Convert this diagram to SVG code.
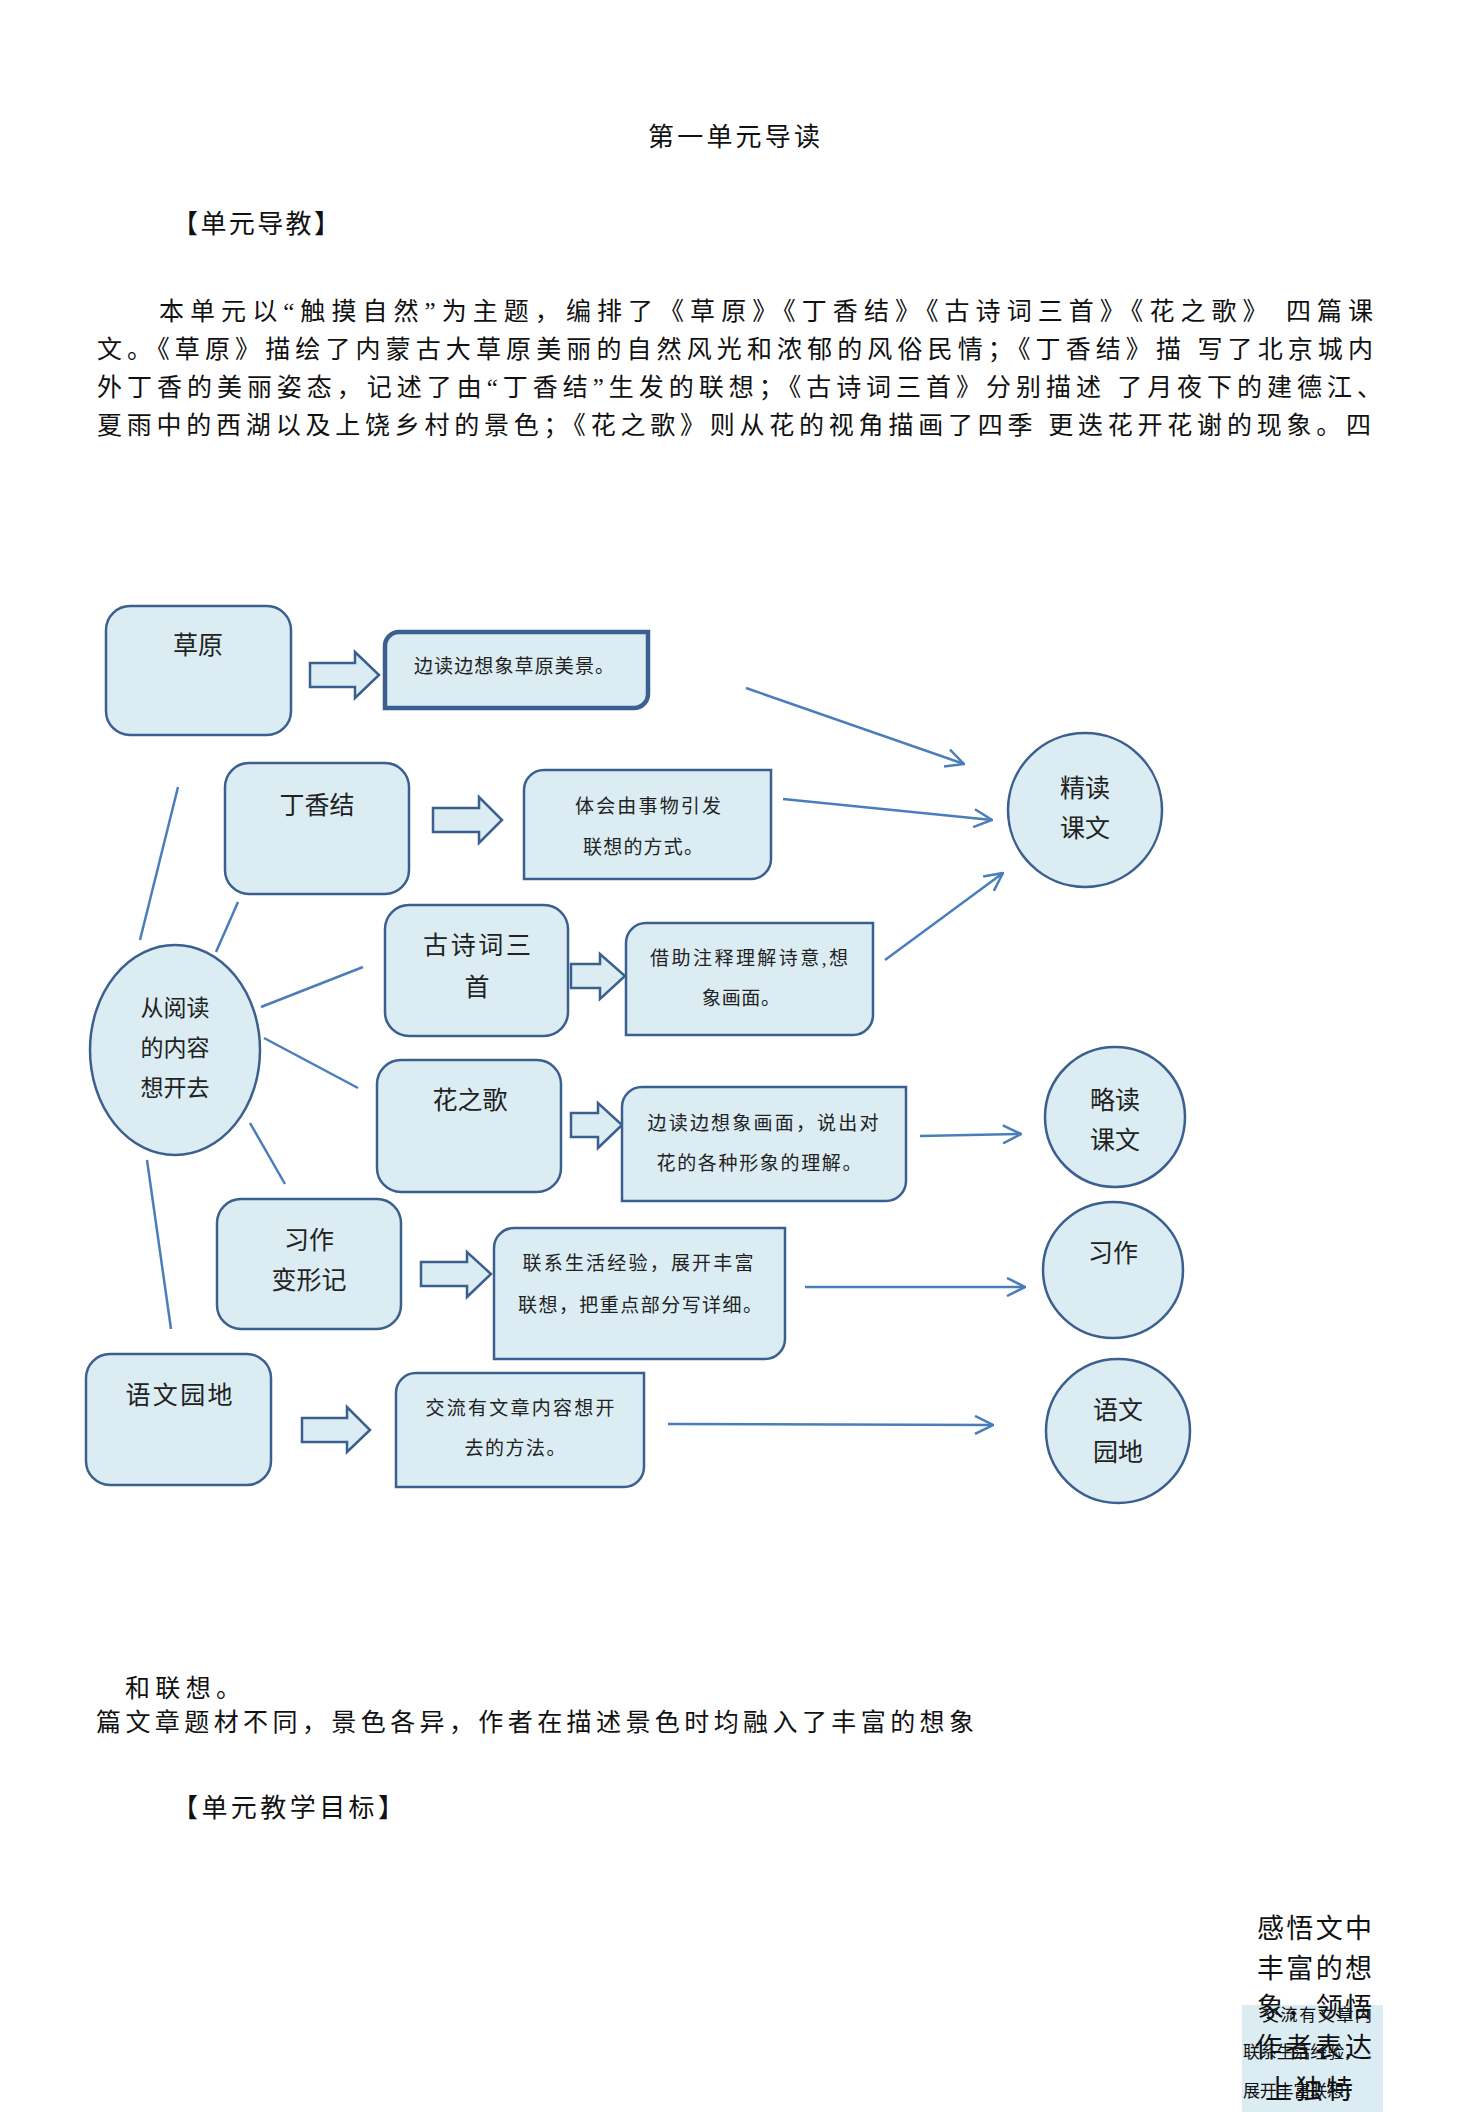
<svg xmlns="http://www.w3.org/2000/svg" width="1467" height="2112" viewBox="0 0 1467 2112">
<defs>
<style>
.bg{fill:#ffffff}
.txt{font-family:'Liberation Serif','Noto Sans CJK SC',serif;fill:#111111;font-weight:400}
.body{font-size:25px}
.head{font-size:26px}
.node{fill:#dbecf3;stroke:#3b5f8f;stroke-width:2.5}
.thick{stroke-width:4.5}
.lbl{font-family:'Liberation Serif','Noto Sans CJK SC',serif;fill:#222222;font-size:25px;text-anchor:middle;font-weight:400}
.sm{font-family:'Liberation Serif','Noto Sans CJK SC',serif;fill:#222222;font-size:19px;text-anchor:middle;font-weight:400}
.el{font-size:23px}
.conn{stroke:#4a7ebb;stroke-width:2.5;fill:none}
.arr{marker-end:url(#ah)}
</style>
<marker id="ah" viewBox="0 0 20 20" refX="19" refY="10" markerWidth="20" markerHeight="20" markerUnits="userSpaceOnUse" orient="auto">
<path d="M1,1 L19,10 L1,19" fill="none" stroke="#4a7ebb" stroke-width="2.5"/>
</marker>
</defs>
<rect class="bg" x="0" y="0" width="1467" height="2112"/>

<g id="page-text">
<text class="txt head" x="734" y="146" text-anchor="middle" textLength="172" lengthAdjust="spacing">第一单元导读</text>
<text class="txt head" x="172" y="233" textLength="168" lengthAdjust="spacing">【单元导教】</text>
<text class="txt body" x="159" y="320" textLength="1214" lengthAdjust="spacing">本单元以“触摸自然”为主题，编排了《草原》《丁香结》《古诗词三首》《花之歌》 四篇课</text>
<text class="txt body" x="97" y="358" textLength="1276" lengthAdjust="spacing">文。《草原》描绘了内蒙古大草原美丽的自然风光和浓郁的风俗民情；《丁香结》描 写了北京城内</text>
<text class="txt body" x="97" y="396" textLength="1285" lengthAdjust="spacing">外丁香的美丽姿态，记述了由“丁香结”生发的联想；《古诗词三首》分别描述 了月夜下的建德江、</text>
<text class="txt body" x="97" y="434" textLength="1274" lengthAdjust="spacing">夏雨中的西湖以及上饶乡村的景色；《花之歌》则从花的视角描画了四季 更迭花开花谢的现象。四</text>
<text class="txt body" x="125" y="1697" textLength="116" lengthAdjust="spacing">和联想。</text>
<text class="txt body" x="96" y="1731" textLength="878" lengthAdjust="spacing">篇文章题材不同，景色各异，作者在描述景色时均融入了丰富的想象</text>
<text class="txt head" x="172" y="1817" textLength="232" lengthAdjust="spacing">【单元教学目标】</text>
</g>

<g id="corner-fragment">
<rect x="1242" y="2005" width="141" height="107" fill="#dbecf3"/>
<text class="txt" font-size="17" x="1262" y="2021" textLength="110" lengthAdjust="spacing">交流有文章内</text>
<text class="txt" font-size="17" x="1243" y="2058" textLength="118" lengthAdjust="spacing">联系生活经验，</text>
<text class="txt" font-size="17" x="1243" y="2097" textLength="118" lengthAdjust="spacing">展开丰富联想，</text>
<text class="txt" font-size="27" x="1257" y="1938" textLength="115" lengthAdjust="spacing">感悟文中</text>
<text class="txt" font-size="27" x="1257" y="1978" textLength="115" lengthAdjust="spacing">丰富的想</text>
<text class="txt" font-size="27" x="1257" y="2017" textLength="115" lengthAdjust="spacing">象，领悟</text>
<text class="txt" font-size="27" x="1255" y="2057" textLength="117" lengthAdjust="spacing">作者表达</text>
<text class="txt" font-size="27" x="1265" y="2099" textLength="88" lengthAdjust="spacing">上独特</text>
</g>

<g id="connectors">
<line class="conn" x1="178" y1="787" x2="140" y2="940"/>
<line class="conn" x1="238" y1="902" x2="216" y2="952"/>
<line class="conn" x1="261" y1="1007" x2="363" y2="967"/>
<line class="conn" x1="264" y1="1038" x2="358" y2="1088"/>
<line class="conn" x1="250" y1="1123" x2="285" y2="1184"/>
<line class="conn" x1="147" y1="1160" x2="171" y2="1329"/>
<line class="conn arr" x1="746" y1="688" x2="964" y2="764"/>
<line class="conn arr" x1="783" y1="799" x2="992" y2="820"/>
<line class="conn arr" x1="885" y1="960" x2="1003" y2="873"/>
<line class="conn arr" x1="920" y1="1136" x2="1021" y2="1134"/>
<line class="conn arr" x1="805" y1="1287" x2="1025" y2="1287"/>
<line class="conn arr" x1="668" y1="1424" x2="993" y2="1425"/>
</g>

<g id="block-arrows">
<path class="node" d="M310,663 H355 V652 L379,675 L355,698 V687 H310 Z"/>
<path class="node" d="M433,808 H479 V797 L502,820 L479,843 V832 H433 Z"/>
<path class="node" d="M571,964 H600 V954 L625,976 L600,999 V988 H571 Z"/>
<path class="node" d="M571,1113 H598 V1103 L622,1125 L598,1148 V1137 H571 Z"/>
<path class="node" d="M421,1262 H467 V1252 L491,1274 L467,1297 V1286 H421 Z"/>
<path class="node" d="M302,1418 H347 V1407 L370,1430 L347,1452 V1442 H302 Z"/>
</g>

<g id="node-caoyuan">
<rect class="node" x="106" y="606" width="185" height="129" rx="24"/>
<text class="lbl" x="198" y="654">草原</text>
</g>
<g id="node-caoyuan-goal">
<path class="node thick" d="M399,632 H648 V694 A14,14 0 0 1 634,708 H385 V646 A14,14 0 0 1 399,632 Z"/>
<text class="sm" x="514" y="673" textLength="200" lengthAdjust="spacing">边读边想象草原美景。</text>
</g>

<g id="node-dingxiangjie">
<rect class="node" x="225" y="763" width="184" height="131" rx="24"/>
<text class="lbl" x="317" y="814">丁香结</text>
</g>
<g id="node-dingxiangjie-goal">
<path class="node" d="M544,770 H771 V859 A20,20 0 0 1 751,879 H524 V790 A20,20 0 0 1 544,770 Z"/>
<text class="sm" x="648" y="813" textLength="146" lengthAdjust="spacing">体会由事物引发</text>
<text class="sm" x="643" y="854" textLength="120" lengthAdjust="spacing">联想的方式。</text>
</g>

<g id="node-gushici">
<rect class="node" x="385" y="905" width="183" height="131" rx="24"/>
<text class="lbl" x="477" y="954" textLength="108" lengthAdjust="spacing">古诗词三</text>
<text class="lbl" x="477" y="996">首</text>
</g>
<g id="node-gushici-goal">
<path class="node" d="M646,923 H873 V1015 A20,20 0 0 1 853,1035 H626 V943 A20,20 0 0 1 646,923 Z"/>
<text class="sm" x="749" y="965" textLength="198" lengthAdjust="spacing">借助注释理解诗意,想</text>
<text class="sm" x="741" y="1005" textLength="78" lengthAdjust="spacing">象画面。</text>
</g>

<g id="node-huazhige">
<rect class="node" x="377" y="1060" width="184" height="132" rx="24"/>
<text class="lbl" x="470" y="1109">花之歌</text>
</g>
<g id="node-huazhige-goal">
<path class="node" d="M642,1087 H906 V1181 A20,20 0 0 1 886,1201 H622 V1107 A20,20 0 0 1 642,1087 Z"/>
<text class="sm" x="763" y="1130" textLength="231" lengthAdjust="spacing">边读边想象画面，说出对</text>
<text class="sm" x="759" y="1170" textLength="205" lengthAdjust="spacing">花的各种形象的理解。</text>
</g>

<g id="node-xizuo">
<rect class="node" x="217" y="1199" width="184" height="130" rx="24"/>
<text class="lbl" x="309" y="1249">习作</text>
<text class="lbl" x="309" y="1289">变形记</text>
</g>
<g id="node-xizuo-goal">
<path class="node" d="M514,1228 H785 V1339 A20,20 0 0 1 765,1359 H494 V1248 A20,20 0 0 1 514,1228 Z"/>
<text class="sm" x="638" y="1270" textLength="231" lengthAdjust="spacing">联系生活经验，展开丰富</text>
<text class="sm" x="640" y="1312" textLength="244" lengthAdjust="spacing">联想，把重点部分写详细。</text>
</g>

<g id="node-yuwenyuandi">
<rect class="node" x="86" y="1354" width="185" height="131" rx="24"/>
<text class="lbl" x="179" y="1404" textLength="107" lengthAdjust="spacing">语文园地</text>
</g>
<g id="node-yuwenyuandi-goal">
<path class="node" d="M416,1373 H644 V1467 A20,20 0 0 1 624,1487 H396 V1393 A20,20 0 0 1 416,1373 Z"/>
<text class="sm" x="520" y="1415" textLength="189" lengthAdjust="spacing">交流有文章内容想开</text>
<text class="sm" x="515" y="1455" textLength="101" lengthAdjust="spacing">去的方法。</text>
</g>

<g id="node-center">
<ellipse class="node" cx="175" cy="1050" rx="85" ry="105"/>
<text class="lbl el" x="175" y="1016">从阅读</text>
<text class="lbl el" x="175" y="1056">的内容</text>
<text class="lbl el" x="175" y="1096">想开去</text>
</g>

<g id="node-jingdu">
<ellipse class="node" cx="1085" cy="810" rx="77" ry="77"/>
<text class="lbl" x="1085" y="797">精读</text>
<text class="lbl" x="1085" y="837">课文</text>
</g>
<g id="node-luedu">
<ellipse class="node" cx="1115" cy="1117" rx="70" ry="70"/>
<text class="lbl" x="1115" y="1109">略读</text>
<text class="lbl" x="1115" y="1149">课文</text>
</g>
<g id="node-xizuo-circle">
<ellipse class="node" cx="1113" cy="1270" rx="70" ry="68"/>
<text class="lbl" x="1113" y="1262">习作</text>
</g>
<g id="node-yuwenyuandi-circle">
<ellipse class="node" cx="1118" cy="1431" rx="72" ry="72"/>
<text class="lbl" x="1118" y="1419">语文</text>
<text class="lbl" x="1118" y="1461">园地</text>
</g>
</svg>
